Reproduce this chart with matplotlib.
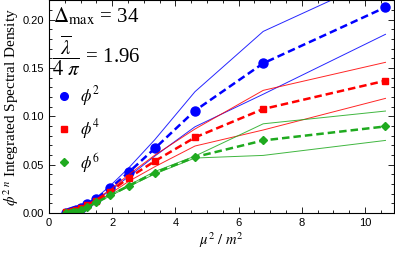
import numpy as np
import matplotlib
matplotlib.use("Agg")
import matplotlib.pyplot as plt
from matplotlib.lines import Line2D
from matplotlib.ticker import MultipleLocator

plt.rcParams['mathtext.fontset'] = 'stix'
plt.rcParams['font.family'] = ['Liberation Sans', 'DejaVu Sans']

# mu^2 / m^2 grid
x = [0.55, 0.65, 0.75, 0.87, 1.0, 1.2, 1.5, 1.93, 2.53, 3.35, 4.62, 6.78, 10.65]

# central values (dashed + markers)
phi2 = [0.0005, 0.001, 0.002, 0.003, 0.005, 0.009, 0.015, 0.0256, 0.0424, 0.067, 0.106, 0.155, 0.213]
phi4 = [0.001, 0.0015, 0.0025, 0.0035, 0.005, 0.008, 0.013, 0.022, 0.0366, 0.0538, 0.0783, 0.1077, 0.137]
phi6 = [0.0, 0.0003, 0.0008, 0.0015, 0.003, 0.006, 0.011, 0.0183, 0.0283, 0.0417, 0.058, 0.0752, 0.0897]

# error bands (thin lines)
phi2_hi = [0.0005, 0.001, 0.002, 0.0035, 0.0055, 0.0095, 0.016, 0.028, 0.047, 0.076, 0.1256, 0.188, 0.246]
phi2_lo = [0.0005, 0.001, 0.002, 0.003, 0.0045, 0.008, 0.014, 0.023, 0.038, 0.059, 0.0893, 0.123, 0.185]
phi4_hi = [0.001, 0.0015, 0.0025, 0.0037, 0.0055, 0.0088, 0.0145, 0.024, 0.040, 0.060, 0.087, 0.127, 0.156]
phi4_lo = [0.001, 0.0015, 0.0025, 0.0033, 0.0045, 0.0072, 0.0115, 0.020, 0.033, 0.048, 0.0694, 0.086, 0.1187]
phi6_hi = [0.0, 0.0003, 0.0008, 0.0016, 0.0032, 0.0063, 0.0115, 0.019, 0.029, 0.043, 0.059, 0.0924, 0.1056]
phi6_lo = [0.0, 0.0003, 0.0008, 0.0014, 0.0028, 0.0057, 0.0105, 0.0176, 0.0276, 0.0405, 0.057, 0.0597, 0.0752]

labels = [r'$\phi^2$', r'$\phi^4$', r'$\phi^6$']
colors = ['#0000ff', '#ff0000', '#1faa1f']
markers = ['o', 's', 'D']
msizes = [6.5, 5.0, 4.5]

fig = plt.figure(figsize=(3.95, 2.54), dpi=100)
ax = fig.add_axes([0.124, 0.161, 0.8735, 0.839])

series = [(phi2, phi2_lo, phi2_hi), (phi4, phi4_lo, phi4_hi), (phi6, phi6_lo, phi6_hi)]
for (mid, lo, hi), c, m, ms in zip(series, colors, markers, msizes):
    ax.plot(x, hi, color=c, lw=0.7, alpha=0.85)
    ax.plot(x, lo, color=c, lw=0.7, alpha=0.85)
    ax.plot(x, mid, color=c, lw=1.8, ls=(0, (3, 1.6)), marker=m, ms=ms, mec=c, mfc=c)

ax.set_xlim(0, 10.92)
ax.set_ylim(0, 0.2205)
ax.xaxis.set_major_locator(MultipleLocator(2))
ax.xaxis.set_minor_locator(MultipleLocator(0.5))
ax.yaxis.set_major_locator(MultipleLocator(0.05))
ax.yaxis.set_minor_locator(MultipleLocator(0.01))
ax.yaxis.set_major_formatter(matplotlib.ticker.FormatStrFormatter('%.2f'))
ax.tick_params(which='both', direction='in', top=True, right=True, labelsize=8, width=0.6)
ax.tick_params(which='major', length=4)
ax.tick_params(which='minor', length=2)
for s in ax.spines.values():
    s.set_linewidth(0.8)

ax.set_xlabel(r'$\mu^2\ /\ m^2$', fontsize=10.5, labelpad=2)
ax.set_ylabel(r'$\phi^{2\ n}$ Integrated Spectral Density', fontsize=11,
              family='Liberation Serif', labelpad=1)

ax.text(0.012, 0.975, r'$\Delta_{\rm max}$ = 34', transform=ax.transAxes,
        fontsize=15, va='top', ha='left', family='Liberation Serif')
ax.text(0.008, 0.74, r'$\dfrac{\overline{\lambda}}{4\ \pi}$ = 1.96', transform=ax.transAxes,
        fontsize=15, va='center', ha='left', family='Liberation Serif')

handles = [Line2D([], [], ls='none', marker=m, color=c, ms=ms)
           for c, m, ms in zip(colors, markers, [5.5, 4.0, 4.0])]
ax.legend(handles, labels, loc='upper left', bbox_to_anchor=(-0.025, 0.675), frameon=False,
          fontsize=12, labelspacing=0.55, handlelength=1.0, handletextpad=0.5)

fig.savefig('out.png', dpi=100)
